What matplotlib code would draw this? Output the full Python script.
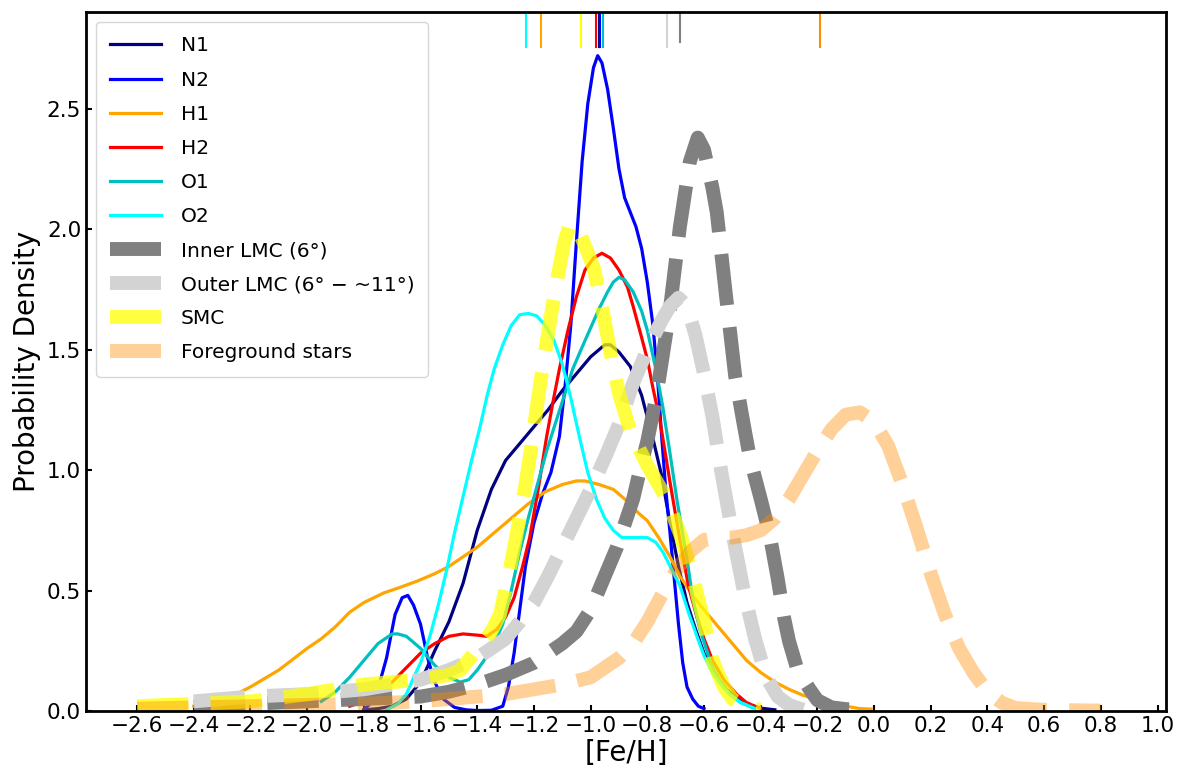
import numpy as np
import matplotlib
matplotlib.use("Agg")
import matplotlib.pyplot as plt

# KDE curves ([Fe/H], density)
n1_x = [-1.80, -1.75, -1.70, -1.65, -1.60, -1.55, -1.50, -1.45, -1.40, -1.35, -1.30, -1.25, -1.20, -1.15,
        -1.10, -1.05, -1.00, -0.95, -0.93, -0.90, -0.86, -0.82, -0.78, -0.75, -0.72, -0.69, -0.66, -0.63,
        -0.60, -0.56, -0.52, -0.48, -0.44, -0.40, -0.35]
n1_y = [0.005, 0.01, 0.02, 0.05, 0.12, 0.25, 0.37, 0.53, 0.75, 0.92, 1.04, 1.11, 1.18, 1.25,
        1.33, 1.40, 1.47, 1.52, 1.52, 1.49, 1.43, 1.31, 1.13, 0.98, 0.78, 0.60, 0.45, 0.34,
        0.24, 0.15, 0.09, 0.05, 0.025, 0.012, 0.005]

n2_x = [-1.80, -1.76, -1.72, -1.69, -1.665, -1.645, -1.625, -1.60, -1.575, -1.55, -1.52, -1.48, -1.44,
        -1.40, -1.35, -1.31, -1.29, -1.27, -1.25, -1.23, -1.20, -1.17, -1.14, -1.11, -1.09, -1.07,
        -1.05, -1.03, -1.01, -0.99, -0.975, -0.96, -0.94, -0.92, -0.90, -0.88, -0.86, -0.84, -0.82,
        -0.80, -0.78, -0.765, -0.75, -0.735, -0.72, -0.705, -0.69, -0.675, -0.66, -0.64, -0.62, -0.60]
n2_y = [0.005, 0.05, 0.22, 0.40, 0.47, 0.48, 0.44, 0.36, 0.22, 0.12, 0.05, 0.015, 0.005,
        0.002, 0.003, 0.02, 0.10, 0.24, 0.42, 0.60, 0.78, 0.90, 0.99, 1.14, 1.35, 1.60,
        1.95, 2.28, 2.52, 2.67, 2.72, 2.69, 2.58, 2.42, 2.25, 2.13, 2.07, 2.01, 1.92,
        1.78, 1.60, 1.40, 1.15, 0.92, 0.74, 0.55, 0.36, 0.20, 0.10, 0.05, 0.02, 0.01]

h1_x = [-2.40, -2.32, -2.25, -2.20, -2.10, -2.00, -1.95, -1.90, -1.85, -1.80, -1.73, -1.68, -1.61,
        -1.55, -1.50, -1.45, -1.40, -1.33, -1.27, -1.22, -1.16, -1.10, -1.05, -1.02, -0.97, -0.92,
        -0.87, -0.83, -0.80, -0.76, -0.72, -0.685, -0.64, -0.60, -0.55, -0.50, -0.45, -0.40, -0.35,
        -0.30, -0.25, -0.19, -0.15, -0.10, -0.05, -0.01]
h1_y = [0.02, 0.04, 0.07, 0.10, 0.17, 0.26, 0.30, 0.35, 0.41, 0.45, 0.49, 0.51, 0.54,
        0.57, 0.60, 0.64, 0.68, 0.75, 0.81, 0.86, 0.91, 0.94, 0.955, 0.955, 0.94, 0.92,
        0.87, 0.82, 0.79, 0.72, 0.64, 0.56, 0.48, 0.42, 0.35, 0.28, 0.21, 0.16, 0.12,
        0.09, 0.065, 0.046, 0.03, 0.02, 0.01, 0.008]

h2_x = [-1.85, -1.80, -1.75, -1.70, -1.65, -1.60, -1.55, -1.50, -1.45, -1.40, -1.366, -1.33, -1.30,
        -1.27, -1.24, -1.215, -1.185, -1.155, -1.13, -1.11, -1.08, -1.05, -1.02, -0.99, -0.96, -0.93,
        -0.90, -0.87, -0.85, -0.82, -0.80, -0.78, -0.756, -0.72, -0.685, -0.655, -0.625, -0.60, -0.57,
        -0.53, -0.485, -0.45, -0.40]
h2_y = [0.02, 0.04, 0.08, 0.12, 0.18, 0.24, 0.28, 0.31, 0.32, 0.315, 0.31, 0.34, 0.39,
        0.47, 0.60, 0.72, 0.92, 1.14, 1.30, 1.42, 1.58, 1.72, 1.83, 1.88, 1.90, 1.88,
        1.83, 1.76, 1.68, 1.55, 1.46, 1.34, 1.21, 0.95, 0.71, 0.52, 0.39, 0.30, 0.21,
        0.13, 0.07, 0.035, 0.01]

o1_x = [-1.95, -1.90, -1.85, -1.80, -1.75, -1.70, -1.68, -1.65, -1.60, -1.55, -1.50, -1.46, -1.43,
        -1.40, -1.37, -1.34, -1.31, -1.28, -1.25, -1.22, -1.19, -1.155, -1.12, -1.09, -1.063, -1.03,
        -1.00, -0.97, -0.94, -0.92, -0.90, -0.88, -0.85, -0.82, -0.80, -0.77, -0.745, -0.72, -0.696,
        -0.66, -0.64, -0.615, -0.59, -0.57, -0.54, -0.51, -0.47, -0.42]
o1_y = [0.04, 0.08, 0.14, 0.21, 0.28, 0.32, 0.32, 0.31, 0.26, 0.19, 0.14, 0.12, 0.13,
        0.17, 0.22, 0.28, 0.36, 0.50, 0.66, 0.80, 0.93, 1.08, 1.21, 1.32, 1.42, 1.51,
        1.59, 1.67, 1.74, 1.78, 1.80, 1.79, 1.74, 1.66, 1.58, 1.42, 1.26, 1.07, 0.88,
        0.63, 0.47, 0.34, 0.25, 0.18, 0.12, 0.07, 0.035, 0.01]

o2_x = [-1.72, -1.68, -1.65, -1.62, -1.60, -1.567, -1.535, -1.507, -1.48, -1.45, -1.42, -1.39, -1.365,
        -1.34, -1.31, -1.28, -1.25, -1.22, -1.19, -1.16, -1.13, -1.10, -1.07, -1.04, -1.01, -0.98,
        -0.95, -0.92, -0.89, -0.86, -0.83, -0.80, -0.77, -0.745, -0.715, -0.685, -0.655, -0.625, -0.60,
        -0.57, -0.54, -0.51, -0.47, -0.42]
o2_y = [0.005, 0.03, 0.07, 0.15, 0.20, 0.31, 0.45, 0.59, 0.74, 0.89, 1.04, 1.18, 1.31,
        1.42, 1.52, 1.60, 1.645, 1.65, 1.64, 1.60, 1.54, 1.44, 1.30, 1.14, 0.99, 0.88,
        0.80, 0.75, 0.72, 0.72, 0.72, 0.72, 0.70, 0.66, 0.59, 0.52, 0.41, 0.31, 0.23,
        0.16, 0.11, 0.07, 0.035, 0.01]

inner_x = [-2.40, -2.20, -2.00, -1.80, -1.60, -1.50, -1.40, -1.30, -1.20, -1.10, -1.05, -1.00, -0.95,
           -0.907, -0.85, -0.826, -0.80, -0.766, -0.72, -0.685, -0.65, -0.622, -0.60, -0.57, -0.555,
           -0.523, -0.49, -0.46, -0.438, -0.40, -0.368, -0.34, -0.318, -0.30, -0.27, -0.227, -0.20,
           -0.15, -0.10, -0.05, -0.02]
inner_y = [0.02, 0.03, 0.04, 0.05, 0.06, 0.08, 0.11, 0.15, 0.20, 0.28, 0.33, 0.42, 0.56,
           0.68, 0.88, 1.00, 1.12, 1.32, 1.67, 2.01, 2.28, 2.38, 2.33, 2.17, 2.07,
           1.73, 1.39, 1.19, 1.05, 0.88, 0.73, 0.55, 0.39, 0.29, 0.17, 0.09, 0.045,
           0.015, 0.008, 0.005, 0.005]

outer_x = [-2.40, -2.20, -2.00, -1.80, -1.70, -1.60, -1.50, -1.40, -1.30, -1.25, -1.20, -1.15, -1.10,
           -1.05, -1.00, -0.95, -0.90, -0.85, -0.80, -0.75, -0.72, -0.69, -0.66, -0.63, -0.60, -0.57,
           -0.54, -0.50, -0.46, -0.42, -0.38, -0.34, -0.30, -0.25]
outer_y = [0.04, 0.06, 0.07, 0.09, 0.11, 0.13, 0.17, 0.22, 0.30, 0.37, 0.45, 0.56, 0.68,
           0.80, 0.92, 1.05, 1.19, 1.36, 1.50, 1.62, 1.68, 1.715, 1.68, 1.56, 1.40, 1.22,
           1.00, 0.74, 0.50, 0.30, 0.14, 0.06, 0.025, 0.005]

smc_x = [-2.60, -2.40, -2.20, -2.00, -1.90, -1.80, -1.70, -1.60, -1.50, -1.46, -1.39, -1.35, -1.32,
         -1.285, -1.26, -1.232, -1.21, -1.19, -1.17, -1.147, -1.12, -1.094, -1.073, -1.05, -1.03,
         -0.989, -0.96, -0.932, -0.90, -0.862, -0.80, -0.731, -0.68, -0.64, -0.60, -0.57, -0.53,
         -0.50, -0.45, -0.40]
smc_y = [0.02, 0.03, 0.04, 0.07, 0.09, 0.11, 0.12, 0.13, 0.15, 0.17, 0.27, 0.33, 0.40,
         0.585, 0.74, 0.925, 1.09, 1.26, 1.42, 1.59, 1.78, 1.94, 2.02, 2.01, 1.96,
         1.84, 1.68, 1.50, 1.32, 1.17, 1.02, 0.88, 0.72, 0.56, 0.37, 0.21, 0.10,
         0.05, 0.015, 0.005]

fg_x = [-2.60, -2.40, -2.20, -2.00, -1.80, -1.60, -1.40, -1.30, -1.20, -1.10, -1.00, -0.90, -0.85,
        -0.80, -0.75, -0.70, -0.65, -0.60, -0.55, -0.50, -0.45, -0.40, -0.35, -0.30, -0.25, -0.20,
        -0.15, -0.10, -0.05, 0.00, 0.05, 0.10, 0.15, 0.20, 0.25, 0.30, 0.35, 0.40, 0.45, 0.50,
        0.60, 0.70, 0.80]
fg_y = [0.01, 0.015, 0.02, 0.025, 0.03, 0.04, 0.06, 0.07, 0.09, 0.11, 0.14, 0.22, 0.28,
        0.37, 0.48, 0.58, 0.66, 0.71, 0.72, 0.72, 0.73, 0.75, 0.80, 0.88, 0.98, 1.08,
        1.17, 1.23, 1.24, 1.20, 1.10, 0.94, 0.76, 0.57, 0.40, 0.26, 0.16, 0.08, 0.035, 0.012,
        0.005, 0.003, 0.002]

# medians shown as short ticks at the top
rug_vals = [-1.228, -1.175, -1.034, -0.981, -0.972, -0.968, -0.955, -0.731, -0.685, -0.192]
rug_cols = ['cyan', 'orange', 'yellow', 'red', 'navy', 'blue', 'c', 'lightgray', 'gray', 'darkorange']

fig = plt.figure(figsize=(11.79, 7.69), dpi=100)
ax = fig.add_subplot(111)
fig.subplots_adjust(left=0.073, right=0.989, top=0.984, bottom=0.0754)

lw = 2.3
ax.plot(n1_x, n1_y, color='navy', lw=lw, label='N1')
ax.plot(n2_x, n2_y, color='blue', lw=lw, label='N2')
ax.plot(h1_x, h1_y, color='orange', lw=lw, label='H1')
ax.plot(h2_x, h2_y, color='red', lw=lw, label='H2')
ax.plot(o1_x, o1_y, color='c', lw=lw, label='O1')
ax.plot(o2_x, o2_y, color='cyan', lw=lw, label='O2')

dlw = 10
ax.plot(inner_x, inner_y, '--', color='gray', lw=dlw, label='Inner LMC (6°)')
ax.plot(outer_x, outer_y, '--', color='lightgray', lw=dlw, label='Outer LMC (6° − ~11°)')
ax.plot(smc_x, smc_y, '--', color='yellow', alpha=0.75, lw=dlw, label='SMC')
ax.plot(fg_x, fg_y, '--', color='darkorange', alpha=0.4, lw=dlw, label='Foreground stars')

for v, c in zip(rug_vals, rug_cols):
    ymin = 0.957 if c == 'gray' else 0.95
    ax.axvline(v, ymin=ymin, ymax=1, color=c, lw=1.5)

ax.set_xlim(-2.78, 1.03)
ax.set_ylim(0, 2.9)
xt = np.round(np.arange(-2.6, 1.01, 0.2), 1) + 0.0
ax.set_xticks(xt)
ax.set_yticks([0.0, 0.5, 1.0, 1.5, 2.0, 2.5])
ax.tick_params(direction='in', labelsize=15.5, width=1.5, length=4)
for s in ax.spines.values():
    s.set_linewidth(2)

ax.set_xlabel('[Fe/H]', fontsize=20, labelpad=2)
ax.set_ylabel('Probability Density', fontsize=20)
ax.legend(loc='upper left', fontsize=14.5, handlelength=2.5, handletextpad=1.0,
          labelspacing=0.75, borderpad=0.7)

fig.savefig('out.png', dpi=100)
